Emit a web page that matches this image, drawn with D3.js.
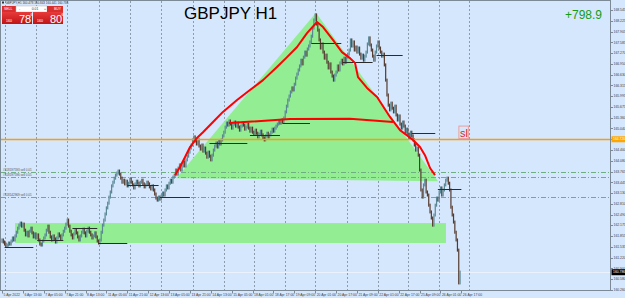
<!DOCTYPE html>
<html lang="en">
<head>
<meta charset="UTF-8">
<title>GBPJPY H1</title>
<script src="https://cdnjs.cloudflare.com/ajax/libs/d3/7.8.5/d3.min.js"></script>
<style>
  body { margin: 0; background: #d5e7fc; }
  svg { display: block; font-family: "Liberation Sans", Arial, sans-serif; }
</style>
</head>
<body>
<div id="chart"></div>
<script>
// hourly closes, one per bar (bar 0 = 5 Apr 21:00)
const firstOpen = 161.70;
const closes = [
  161.74, 161.68, 161.62, 161.56, 161.59, 161.65, 161.62, 161.71, 161.80, 161.74, 161.86, 161.97,
  162.09, 162.18, 162.24, 162.15, 162.21,
  162.03, 161.89, 161.97, 161.86, 162.00, 162.09, 161.95, 161.83, 161.92, 161.80, 161.89,
  161.74, 161.62, 161.59, 161.71, 161.80, 161.89, 162.03, 162.15,
  161.97, 161.83, 161.74, 161.86, 161.77, 161.68, 161.80, 161.92, 161.86, 161.77, 161.89, 162.00, 162.09, 162.21, 162.33,
  162.15, 162.00, 161.89, 161.80, 161.92, 162.03, 161.95, 161.83, 161.74, 161.86, 161.97, 162.06, 161.95, 161.86, 162.00, 162.09, 161.97, 161.89, 161.80, 161.86, 161.95, 161.83, 161.71,
  161.65, 161.74,
  161.97, 162.18, 162.33, 162.51, 162.69, 162.83, 163.01, 163.16, 163.34, 163.45, 163.57, 163.66, 163.72,
  163.78, 163.69,
  163.57, 163.45, 163.51, 163.40, 163.48, 163.34, 163.42, 163.54, 163.45, 163.37, 163.28, 163.40, 163.48, 163.42, 163.34, 163.45, 163.51, 163.40, 163.31, 163.37, 163.45, 163.40, 163.31, 163.25, 163.34,
  163.22, 163.10, 162.98, 162.92, 163.01, 162.95,
  163.04, 163.13, 163.07, 163.22, 163.34, 163.28, 163.42, 163.51, 163.45, 163.60, 163.66,
  163.81, 163.69, 163.87, 163.96, 163.81, 163.93, 164.05, 163.93, 164.11,
  164.22, 164.34, 164.46, 164.55, 164.70, 164.79, 164.67,
  164.58, 164.70, 164.52, 164.43, 164.55, 164.37, 164.46, 164.31, 164.19, 164.34, 164.22, 164.11, 164.25,
  164.40, 164.52, 164.61, 164.49, 164.67, 164.58, 164.70, 164.82, 164.93,
  165.08, 165.20, 165.14, 165.26, 165.17, 165.05, 165.17, 165.23, 165.11, 165.20, 165.08, 164.99, 165.11, 165.20, 165.14, 165.02, 165.08, 165.17, 165.05, 164.96, 165.05, 164.93,
  164.87, 164.99, 164.90, 164.79, 164.87, 164.96, 164.85, 164.76, 164.70, 164.82, 164.90, 164.79, 164.85, 164.93, 165.02, 164.96, 165.05, 165.11,
  165.17, 165.26, 165.20, 165.29, 165.23, 165.35,
  165.53, 165.70, 165.88, 166.00, 166.12, 166.24, 166.18,
  166.35, 166.53, 166.65, 166.77, 166.89, 167.06, 166.95, 167.15, 167.30, 167.21, 167.39, 167.48, 167.60,
  167.77, 168.01, 168.25, 168.40, 168.13, 167.95,
  167.66, 167.42, 167.54, 167.30, 167.12, 167.21, 167.00, 166.83, 166.95, 166.71, 166.59, 166.47, 166.62, 166.71,
  166.89, 166.77, 166.98, 167.06, 166.95, 167.12, 167.00, 167.15, 167.24, 167.36,
  167.66, 167.48, 167.60, 167.36, 167.45, 167.30,
  167.42, 167.24, 167.12, 167.21, 167.06, 167.18, 167.30, 167.54, 167.72, 167.51, 167.36, 167.18,
  167.06, 167.30, 167.48, 167.60, 167.42, 167.30, 167.18, 167.24,
  166.92, 166.47, 166.03, 165.73, 165.59, 165.79,
  165.64, 165.53, 165.70, 165.44, 165.29, 165.41, 165.17, 165.05, 165.23, 165.11, 164.93, 165.02, 164.87, 164.76, 164.93, 164.82, 164.70,
  164.55, 164.40, 164.46, 164.25,
  163.81, 163.22, 163.01,
  163.37, 163.51, 163.16, 163.07, 162.77, 162.57, 162.39, 162.18,
  162.48, 162.77, 162.98, 162.92, 163.16, 163.28, 163.07, 163.22, 163.37, 163.51, 163.57, 163.42, 163.22,
  162.71, 162.48, 162.27, 161.97, 161.74, 161.44,
  160.47, 160.79
];

const priceTicks = [168.545, 168.225, 167.905, 167.585, 167.270, 166.950, 166.630, 166.315, 165.995,
  165.675, 165.360, 165.040, 164.720, 164.400, 164.080, 163.765, 163.445, 163.130, 162.810, 162.490,
  162.175, 161.855, 161.535, 161.220, 160.900, 160.580, 160.260];

const timeLabels = ["5 Apr 2022", "6 Apr 13:00", "7 Apr 05:00", "7 Apr 21:00", "8 Apr 13:00",
  "11 Apr 05:00", "11 Apr 21:00", "12 Apr 13:00", "13 Apr 05:00", "13 Apr 21:00", "14 Apr 13:00",
  "15 Apr 05:00", "18 Apr 01:00", "18 Apr 17:00", "19 Apr 09:00", "20 Apr 01:00", "20 Apr 17:00",
  "21 Apr 09:00", "22 Apr 01:00", "22 Apr 17:00", "25 Apr 09:00", "26 Apr 01:00", "26 Apr 17:00"];
const labelStep = 16;

const gridBars = [2, 26, 50, 74, 98, 122, 146, 170, 193, 217, 240, 264, 288, 311, 335, 358];

// [startBar, endBar, price]
const dailyLevels = [
  [2, 24, 161.53], [27, 47, 161.74], [54, 73, 162.09], [74, 96, 161.65],
  [96, 120, 163.37], [121, 144, 163.01], [159, 188, 164.61], [190, 213, 164.85],
  [215, 236, 165.20], [237, 260, 167.57], [261, 284, 167.01], [287, 307, 167.21],
  [314, 332, 164.90], [334, 352, 163.25]
];

const orderLevels = [163.75, 163.60, 163.01];
const orderNames = ["#518197593 sell 0.01", "#518197596 sell 0.01", "#518142969 sell 0.01"];

// [bar, price]
const headCurve = [
  [132.6, 163.66], [136.4, 163.90], [140.2, 164.19], [144.1, 164.49], [149.4, 164.76],
  [154.0, 164.93], [161.7, 165.23], [169.3, 165.53], [180.1, 165.88], [190.0, 166.18],
  [200.0, 166.47], [210.7, 166.86], [218.4, 167.15], [226.1, 167.45], [233.7, 167.86],
  [241.4, 168.19], [246.0, 168.04], [253.6, 167.66], [260.5, 167.30], [266.7, 167.12],
  [270.5, 166.98], [272.8, 166.56], [279.7, 166.24], [287.4, 165.97], [297.3, 165.38],
  [305.0, 164.99], [315.0, 164.70], [320.3, 164.49], [324.1, 164.25], [328.0, 163.87],
  [331.8, 163.66]
];
const neckLine = [[173.9, 165.20], [220.7, 165.32], [266.7, 165.33], [299.6, 165.23]];
const triangleZone = [[133.5, 163.57], [240.6, 168.46], [334.1, 163.48]];
const rangeBars = [10, 340.2];
const rangePrices = [161.65, 162.24];

const stopLevel = 164.72;
const bidPrice = 160.786;
const slMark = [350.5, 165.11];

const width = 625, height = 298;
const plot = { left: 1, right: 610.5, top: 1, bottom: 290.5 };

const svg = d3.select("#chart").append("svg")
  .attr("width", width).attr("height", height);

svg.append("rect").attr("width", width).attr("height", height).attr("fill", "#d5e7fc");

const x = d3.scaleLinear().domain([0, 351]).range([2, 2 + 351 * 1.305]);
const y = d3.scaleLinear().domain([160.26, 168.545]).range([290, 10]);

// vertical grid
svg.append("g").selectAll("line").data(gridBars).enter().append("line")
  .attr("x1", d => Math.round(x(d)) + 0.5).attr("x2", d => Math.round(x(d)) + 0.5)
  .attr("y1", plot.top).attr("y2", plot.bottom)
  .attr("stroke", "#8d9cad").attr("stroke-width", 1).attr("stroke-dasharray", "2,2");

// background objects
svg.append("rect")
  .attr("x", x(rangeBars[0])).attr("width", x(rangeBars[1]) - x(rangeBars[0]))
  .attr("y", y(rangePrices[1])).attr("height", y(rangePrices[0]) - y(rangePrices[1]))
  .attr("fill", "#93ee93");

svg.append("path")
  .datum(triangleZone)
  .attr("d", d3.line().x(d => x(d[0])).y(d => y(d[1])))
  .attr("fill", "#93ee93");

// order lines
svg.append("g").selectAll("line").data(orderLevels).enter().append("line")
  .attr("x1", plot.left).attr("x2", plot.right)
  .attr("y1", d => Math.round(y(d)) + 0.5).attr("y2", d => Math.round(y(d)) + 0.5)
  .attr("stroke", "#6fae80").attr("stroke-dasharray", "5,2,1,2");

svg.append("g").selectAll("text").data(orderLevels).enter().append("text")
  .attr("x", 3).attr("y", d => Math.round(y(d)) - 1)
  .attr("font-size", 3).attr("fill", "#4a5560")
  .text((d, i) => orderNames[i]);

// bid line
svg.append("line")
  .attr("x1", plot.left).attr("x2", plot.right)
  .attr("y1", Math.round(y(bidPrice)) + 0.5).attr("y2", Math.round(y(bidPrice)) + 0.5)
  .attr("stroke", "#eaf3fd");

// candles
const bars = closes.map((c, i) => ({ i, o: i === 0 ? firstOpen : closes[i - 1], c }));
svg.append("g").selectAll("rect").data(bars).enter().append("rect")
  .attr("x", d => x(d.i) - 0.6).attr("width", 1.2)
  .attr("y", d => y(Math.max(d.o, d.c)) - 1.5)
  .attr("height", d => Math.abs(y(d.o) - y(d.c)) + 3)
  .attr("fill", d => d.c >= d.o ? "#5a8794" : "#553a2f");

// daily levels
svg.append("g").selectAll("line").data(dailyLevels).enter().append("line")
  .attr("x1", d => x(d[0])).attr("x2", d => x(d[1]))
  .attr("y1", d => Math.round(y(d[2])) + 0.5).attr("y2", d => Math.round(y(d[2])) + 0.5)
  .attr("stroke", "#2b2b2b").attr("stroke-width", 1);

// orange level
svg.append("line")
  .attr("x1", plot.left).attr("x2", plot.right)
  .attr("y1", Math.round(y(stopLevel)) + 0.5).attr("y2", Math.round(y(stopLevel)) + 0.5)
  .attr("stroke", "#ff9c00").attr("stroke-width", 1.3);

// red drawings
const redLine = d3.line().x(d => x(d[0])).y(d => y(d[1]));
svg.append("path").datum(headCurve).attr("d", redLine)
  .attr("fill", "none").attr("stroke", "#ff0000").attr("stroke-width", 2).attr("stroke-linejoin", "round");
svg.append("path").datum(neckLine).attr("d", redLine)
  .attr("fill", "none").attr("stroke", "#ff0000").attr("stroke-width", 2);

// sl label
svg.append("rect")
  .attr("x", x(slMark[0]) - 0.5).attr("y", y(slMark[1]))
  .attr("width", 9.5).attr("height", 12.5)
  .attr("fill", "none").attr("stroke", "#eaa0a0");
svg.append("text")
  .attr("x", x(slMark[0]) + 0.5).attr("y", y(slMark[1]) + 11)
  .attr("font-size", 11).attr("fill", "#e02828").text("sl");

// frame
svg.append("rect")
  .attr("x", plot.left - 0.5).attr("y", plot.top - 0.5)
  .attr("width", plot.right - plot.left + 0.5).attr("height", plot.bottom - plot.top + 0.5)
  .attr("fill", "none").attr("stroke", "#7c8a98");

// price axis
const py = svg.append("g");
py.selectAll("line").data(priceTicks).enter().append("line")
  .attr("x1", plot.right).attr("x2", plot.right + 2.5)
  .attr("y1", d => Math.round(y(d)) + 0.5).attr("y2", d => Math.round(y(d)) + 0.5)
  .attr("stroke", "#7c8a98");
py.selectAll("text").data(priceTicks).enter().append("text")
  .attr("x", plot.right + 3).attr("y", d => y(d) + 1.2)
  .attr("font-size", 3.4).attr("fill", "#3a3f46")
  .text(d => d3.format(".3f")(d));

// highlighted price labels
[[stopLevel, "#ffa500", "#ffffff"], [bidPrice, "#000000", "#ffffff"]].forEach(([p, bg, fg]) => {
  svg.append("rect").attr("x", plot.right + 1).attr("y", y(p) - 3)
    .attr("width", 14).attr("height", 6).attr("fill", bg);
  svg.append("text").attr("x", plot.right + 2.5).attr("y", y(p) + 1.2)
    .attr("font-size", 3.4).attr("fill", fg).text(d3.format(".3f")(p));
});

// time axis
const tx = svg.append("g");
tx.selectAll("line").data(timeLabels).enter().append("line")
  .attr("x1", (d, i) => Math.round(x(i * labelStep)) + 0.5).attr("x2", (d, i) => Math.round(x(i * labelStep)) + 0.5)
  .attr("y1", plot.bottom).attr("y2", plot.bottom + 3)
  .attr("stroke", "#7c8a98");
tx.selectAll("text").data(timeLabels).enter().append("text")
  .attr("x", (d, i) => x(i * labelStep) + 1.5).attr("y", 295.5)
  .attr("font-size", 3.4).attr("fill", "#3a3f46")
  .text(d => d);

// title and profit
svg.append("text").attr("x", 184).attr("y", 19)
  .attr("font-size", 17).attr("fill", "#000").text("GBPJPY H1");
svg.append("text").attr("x", 602).attr("y", 18.5).attr("text-anchor", "end")
  .attr("font-size", 12).attr("fill", "#179a17").text("+798.9");

// one click trading panel
const panel = svg.append("g");
panel.append("rect").attr("x", 2).attr("y", 1.5).attr("width", 2).attr("height", 2).attr("fill", "#333");
panel.append("text").attr("x", 5.5).attr("y", 4).attr("font-size", 3).attr("fill", "#333")
  .text("GBPJPY,H1  160.478 160.843 160.441 160.786");
const grad = svg.append("defs").append("linearGradient").attr("id", "redg")
  .attr("x1", 0).attr("y1", 0).attr("x2", 0).attr("y2", 1);
grad.append("stop").attr("offset", "0%").attr("stop-color", "#e83a3a");
grad.append("stop").attr("offset", "100%").attr("stop-color", "#c01414");
panel.append("rect").attr("x", 2).attr("y", 6).attr("width", 14).attr("height", 6).attr("fill", "#d92e2e");
panel.append("rect").attr("x", 16).attr("y", 6).attr("width", 31).attr("height", 6).attr("fill", "#ffffff").attr("stroke", "#b9b9b9").attr("stroke-width", 0.5);
panel.append("rect").attr("x", 47).attr("y", 6).attr("width", 16).attr("height", 6).attr("fill", "#d92e2e");
panel.append("rect").attr("x", 2).attr("y", 12).attr("width", 30).attr("height", 12).attr("fill", "url(#redg)");
panel.append("rect").attr("x", 33).attr("y", 12).attr("width", 30).attr("height", 12).attr("fill", "url(#redg)");
panel.append("text").attr("x", 4).attr("y", 10.3).attr("font-size", 3.4).attr("fill", "#fff").text("SELL");
panel.append("text").attr("x", 54).attr("y", 10.3).attr("font-size", 3.4).attr("fill", "#fff").text("BUY");
panel.append("text").attr("x", 19).attr("y", 10.3).attr("font-size", 3.4).attr("fill", "#333").text("-");
panel.append("text").attr("x", 35).attr("y", 10.3).attr("font-size", 3.4).attr("text-anchor", "middle").attr("fill", "#333").text("0.01");
panel.append("text").attr("x", 44).attr("y", 10.3).attr("font-size", 3.4).attr("fill", "#333").text("+");
[[2, "78"], [33, "80"]].forEach(([px, big]) => {
  panel.append("text").attr("x", px + 4).attr("y", 22).attr("font-size", 3.6).attr("fill", "#fff").text("160");
  panel.append("text").attr("x", px + 17).attr("y", 22.8).attr("font-size", 11).attr("fill", "#fff").text(big);
  panel.append("text").attr("x", px + 28.5).attr("y", 16).attr("font-size", 4).attr("fill", "#fff").text("6");
});
</script>
</body>
</html>
